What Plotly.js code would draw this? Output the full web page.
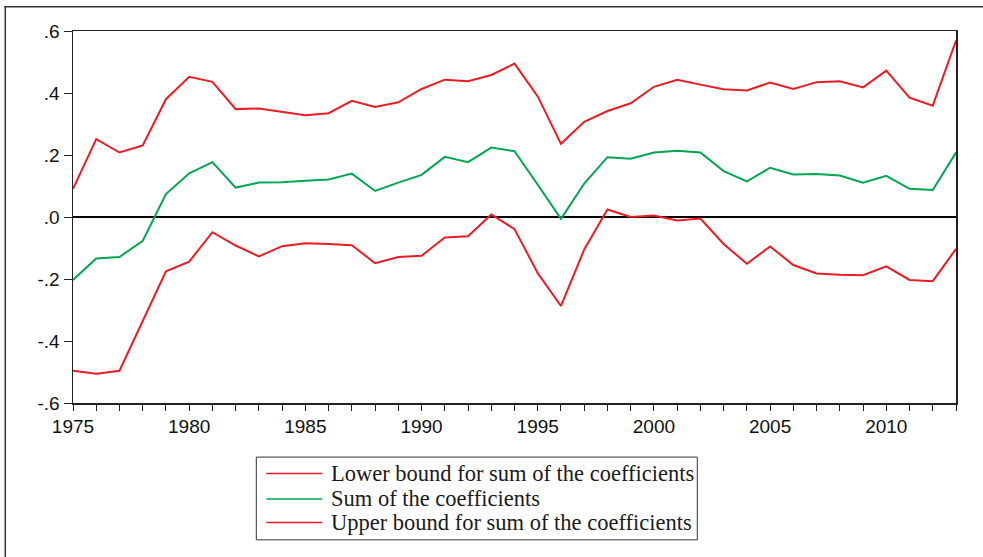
<!DOCTYPE html>
<html>
<head>
<meta charset="utf-8">
<script src="https://cdn.plot.ly/plotly-3.0.1.min.js"></script>
<style>
  html, body { margin: 0; padding: 0; background: #fff; }
  #chart { width: 983px; height: 557px; }
</style>
</head>
<body>
<div id="chart"></div>
<script>
const years = [1975,1976,1977,1978,1979,1980,1981,1982,1983,1984,1985,1986,1987,1988,1989,1990,1991,1992,1993,1994,1995,1996,1997,1998,1999,2000,2001,2002,2003,2004,2005,2006,2007,2008,2009,2010,2011,2012,2013];

const lowerBound = [-0.496,-0.506,-0.496,-0.335,-0.175,-0.144,-0.049,-0.092,-0.127,-0.094,-0.085,-0.087,-0.091,-0.149,-0.129,-0.125,-0.066,-0.062,0.008,-0.039,-0.181,-0.287,-0.105,0.024,0.000,0.005,-0.011,-0.005,-0.087,-0.151,-0.095,-0.155,-0.182,-0.186,-0.188,-0.159,-0.203,-0.207,-0.103];

const sumCoef = [-0.203,-0.134,-0.129,-0.077,0.074,0.141,0.177,0.095,0.111,0.112,0.117,0.121,0.140,0.084,0.111,0.136,0.194,0.177,0.224,0.212,0.104,-0.006,0.108,0.193,0.188,0.208,0.214,0.208,0.148,0.115,0.159,0.137,0.139,0.134,0.111,0.133,0.091,0.087,0.208];

const upperBound = [0.091,0.251,0.208,0.231,0.380,0.452,0.436,0.348,0.350,0.339,0.328,0.335,0.375,0.355,0.370,0.413,0.443,0.438,0.458,0.495,0.389,0.236,0.307,0.342,0.367,0.420,0.443,0.427,0.412,0.408,0.434,0.413,0.435,0.438,0.418,0.472,0.385,0.359,0.569];

const seriesNames = ["Lower bound for sum of the coefficients", "Sum of the coefficients", "Upper bound for sum of the coefficients"];

const yTickVals = [-0.6,-0.4,-0.2,0,0.2,0.4,0.6];
const yTickText = ["-.6","-.4","-.2",".0",".2",".4",".6"];
const xTickVals = [1975,1980,1985,1990,1995,2000,2005,2010];

const RED = "#ED1C24";
const GREEN = "#00A651";
const seriesColors = [RED, GREEN, RED];

const traces = [
  {x: years, y: lowerBound, name: seriesNames[0], type: "scatter", mode: "lines", line: {color: seriesColors[0], width: 2}},
  {x: years, y: sumCoef, name: seriesNames[1], type: "scatter", mode: "lines", line: {color: seriesColors[1], width: 2}},
  {x: years, y: upperBound, name: seriesNames[2], type: "scatter", mode: "lines", line: {color: seriesColors[2], width: 2}}
];

// Plot area in pixels: x 72.7..955.7, y 31.3..402.7
const W = 983, H = 557, L = 72.7, R = 27.3, T = 31.3, B = 154.3;
const pw = W - L - R, ph = H - T - B;
const px = v => (v - L) / pw;          // pixel x -> paper x
const py = v => (H - B - v) / ph;      // pixel y -> paper y

// Hand-drawn legend (box, line samples and labels)
const legBox = {x0: 256, x1: 697, y0: 456.7, y1: 539.3};
const rowY = [473, 498.5, 522];
const shapes = [
  {type: "line", xref: "paper", yref: "paper", x0: px(4), x1: px(983), y0: py(7), y1: py(7), line: {color: "#333", width: 1.5}},
  {type: "line", xref: "paper", yref: "paper", x0: px(5), x1: px(5), y0: py(7), y1: py(557), line: {color: "#333", width: 1.5}},
  {type: "rect", xref: "paper", yref: "paper", x0: px(legBox.x0), x1: px(legBox.x1), y0: py(legBox.y0), y1: py(legBox.y1), line: {color: "#333", width: 1}, fillcolor: "rgba(0,0,0,0)"}
];
const annotations = [];
seriesNames.forEach((n, i) => {
  shapes.push({type: "line", xref: "paper", yref: "paper", x0: px(266), x1: px(322), y0: py(rowY[i]), y1: py(rowY[i]), line: {color: seriesColors[i], width: 1.5}});
  annotations.push({xref: "paper", yref: "paper", x: px(329), y: py(rowY[i]), xanchor: "left", yanchor: "middle", showarrow: false, text: n,
    font: {family: "Liberation Serif, Times New Roman, serif", size: 22.5, color: "#1a1a1a"}});
});

const layout = {
  width: W, height: H,
  margin: {l: L, r: R, t: T, b: B, pad: 0},
  paper_bgcolor: "#fff", plot_bgcolor: "#fff",
  font: {family: "Liberation Sans, Arial, sans-serif", size: 19, color: "#111"},
  xaxis: {
    range: [1975, 2013], tickmode: "array", tickvals: xTickVals,
    ticks: "outside", ticklen: 6, tickwidth: 1, tickcolor: "#222",
    minor: {dtick: 1, tick0: 1975, ticks: "outside", ticklen: 6, tickwidth: 1, tickcolor: "#222", showgrid: false},
    showline: true, linecolor: "#222", linewidth: 1.5, mirror: true,
    showgrid: false, zeroline: false, tickfont: {size: 19}, automargin: false
  },
  yaxis: {
    range: [-0.6, 0.6], tickmode: "array", tickvals: yTickVals, ticktext: yTickText,
    ticks: "outside", ticklen: 8, tickwidth: 1, tickcolor: "#222",
    showline: true, linecolor: "#222", linewidth: 1.5, mirror: true,
    showgrid: false, zeroline: true, zerolinecolor: "#000", zerolinewidth: 2.5,
    tickfont: {size: 19}, automargin: false
  },
  showlegend: false,
  shapes: shapes,
  annotations: annotations
};

Plotly.newPlot("chart", traces, layout, {displayModeBar: false, staticPlot: true});
</script>
</body>
</html>
